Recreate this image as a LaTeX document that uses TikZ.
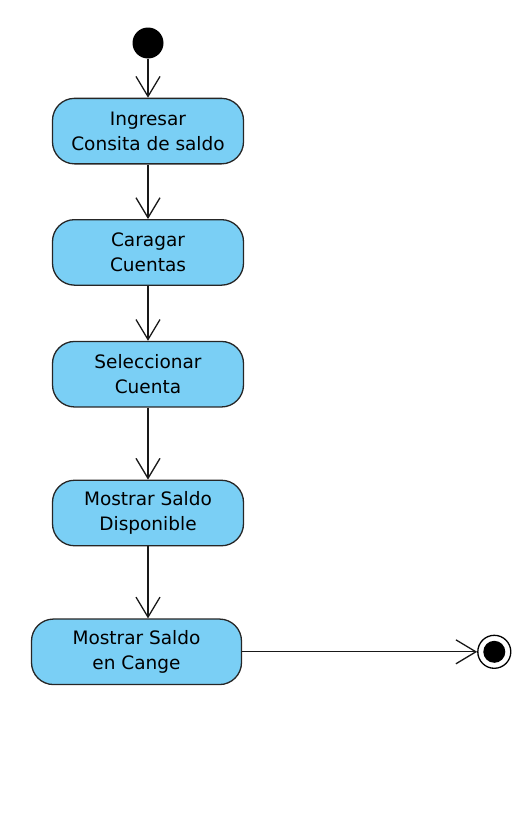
\documentclass[tikz,border=0pt]{standalone}
\usepackage{fontspec}
\setmainfont{DejaVu Sans}
\usetikzlibrary{arrows.meta,positioning}
\definecolor{actblue}{RGB}{122,207,245}
\tikzset{
  actbox/.style={draw=black!85, fill=actblue, rounded corners=22pt, align=center, minimum width=191pt, minimum height=65.5pt, line width=1.3pt, font=\fontsize{18.5}{25}\selectfont},
  actarrow/.style={-{Straight Barb[length=20pt, width=24pt, line width=1.3pt]}, line width=1.3pt, draw=black!90},
}

\begin{document}
\begin{tikzpicture}[node distance=39pt and 235pt]
    \useasboundingbox (0,0) rectangle (528pt,-822pt);
    \node[circle, fill=black, minimum size=31pt, inner sep=0pt] (start) at (148pt,-43pt) {};
    \node[actbox, below=of start] (ingresar) {Ingresar\\Consita de saldo};
    \node[actbox, below=54.5pt of ingresar] (cargar) {Caragar\\Cuentas};
    \node[actbox, below=55pt of cargar] (selec) {Seleccionar\\Cuenta};
    \node[actbox, below=72pt of selec] (disp) {Mostrar Saldo\\Disponible};
    \node[actbox, minimum width=210pt, below=72pt of disp.south east, anchor=north east, xshift=-2pt] (cange) {Mostrar Saldo\\en Cange};
    \node[circle, draw=black, line width=1.3pt, fill=white, minimum size=33pt, inner sep=0pt, right=of cange] (final) {};
    \node[circle, fill=black, minimum size=22pt, inner sep=0pt] (finaldot) at (final) {};
    \draw[actarrow] (start) -- (ingresar);
    \draw[actarrow] (ingresar) -- (cargar);
    \draw[actarrow] (cargar) -- (selec);
    \draw[actarrow] (selec) -- (disp);
    \draw[actarrow] (disp) -- (disp |- cange.north);
    \draw[actarrow] (cange) -- (final);
\end{tikzpicture}
\end{document}
